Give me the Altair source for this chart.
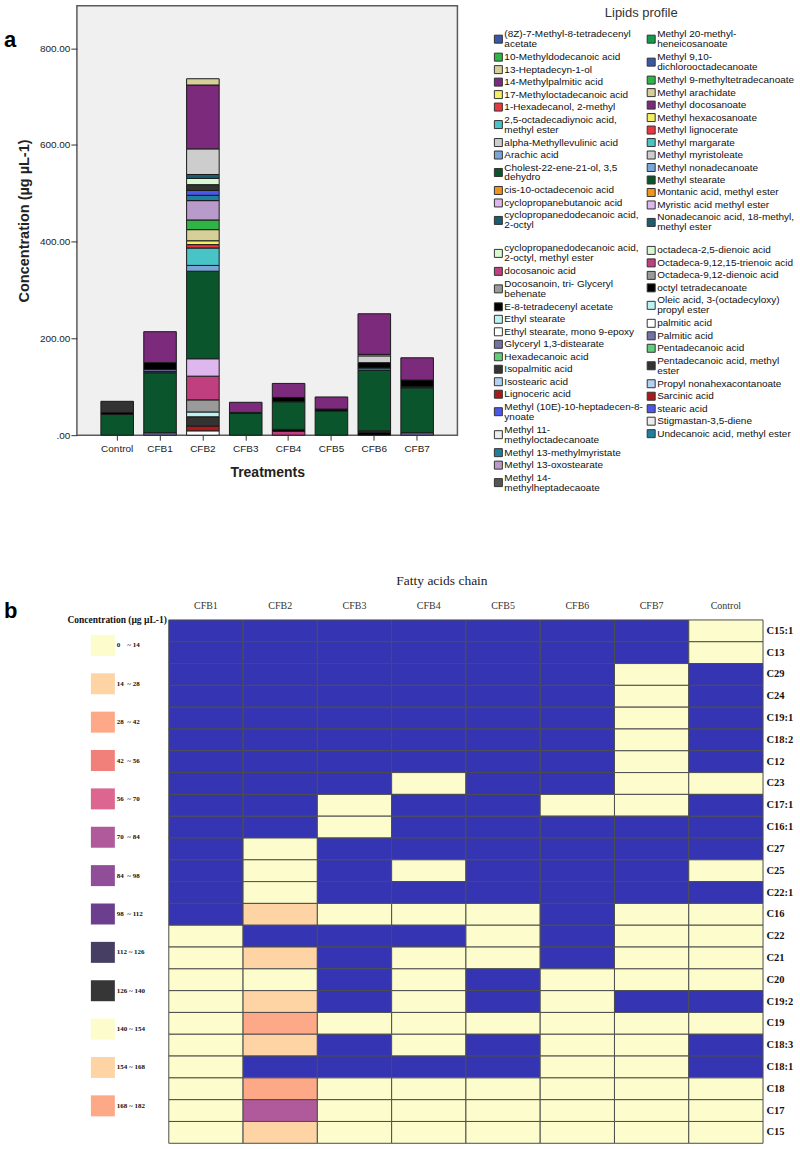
import altair as alt
import pandas as pd

SANS = "Liberation Sans"
SERIF = "Liberation Serif"

# ---------------------------------------------------------------- panel a
TREATMENTS = ["Control", "CFB1", "CFB2", "CFB3", "CFB4", "CFB5", "CFB6", "CFB7"]

# legend entries, column by column ("\n" marks where a label wraps)
LIPIDS_LEFT = [
    "(8Z)-7-Methyl-8-tetradecenyl\nacetate",
    "10-Methyldodecanoic acid",
    "13-Heptadecyn-1-ol",
    "14-Methylpalmitic acid",
    "17-Methyloctadecanoic acid",
    "1-Hexadecanol, 2-methyl",
    "2,5-octadecadiynoic acid,\nmethyl ester",
    "alpha-Methyllevulinic acid",
    "Arachic acid",
    "Cholest-22-ene-21-ol, 3,5\ndehydro",
    "cis-10-octadecenoic acid",
    "cyclopropanebutanoic acid",
    "cyclopropanedodecanoic acid,\n2-octyl",
    "cyclopropanedodecanoic acid,\n2-octyl, methyl ester",
    "docosanoic acid",
    "Docosanoin, tri- Glyceryl\nbehenate",
    "E-8-tetradecenyl acetate",
    "Ethyl stearate",
    "Ethyl stearate, mono 9-epoxy",
    "Glyceryl 1,3-distearate",
    "Hexadecanoic acid",
    "Isopalmitic acid",
    "Isostearic acid",
    "Lignoceric acid",
    "Methyl (10E)-10-heptadecen-8-\nynoate",
    "Methyl 11-\nmethyloctadecanoate",
    "Methyl 13-methylmyristate",
    "Methyl 13-oxostearate",
    "Methyl 14-\nmethylheptadecaoate",
]
COLORS_LEFT = [
    "#3a56a8", "#2fb545", "#d6cf98", "#7b2a7c", "#f4ee62", "#e8383e",
    "#48c3c6", "#cdcdcd", "#78a6d6", "#0b552c", "#f0941e", "#dfb7ef",
    "#1b5c73", "#d9f9d3", "#c03f7f", "#9a9a9a", "#000000", "#bdf2f2",
    "#ffffff", "#7272a6", "#5fcf7c", "#333333", "#b2d2f2", "#a91b1b",
    "#4b57ea", "#ececec", "#1f7f9e", "#b99bcb", "#555555",
]
LIPIDS_RIGHT = [
    "Methyl 20-methyl-\nheneicosanoate",
    "Methyl 9,10-\ndichlorooctadecanoate",
    "Methyl 9-methyltetradecanoate",
    "Methyl arachidate",
    "Methyl docosanoate",
    "Methyl hexacosanoate",
    "Methyl lignocerate",
    "Methyl margarate",
    "Methyl myristoleate",
    "Methyl nonadecanoate",
    "Methyl stearate",
    "Montanic acid, methyl ester",
    "Myristic acid methyl ester",
    "Nonadecanoic acid, 18-methyl,\nmethyl ester",
    "octadeca-2,5-dienoic acid",
    "Octadeca-9,12,15-trienoic acid",
    "Octadeca-9,12-dienoic acid",
    "octyl tetradecanoate",
    "Oleic acid, 3-(octadecyloxy)\npropyl ester",
    "palmitic acid",
    "Palmitic acid",
    "Pentadecanoic acid",
    "Pentadecanoic acid, methyl\nester",
    "Propyl nonahexacontanoate",
    "Sarcinic acid",
    "stearic acid",
    "Stigmastan-3,5-diene",
    "Undecanoic acid, methyl ester",
]
COLORS_RIGHT = [
    "#139a4a", "#3a56a8", "#2fb545", "#d6cf98", "#7b2a7c", "#f4ee62",
    "#e8383e", "#48c3c6", "#cdcdcd", "#78a6d6", "#0b552c", "#f0941e",
    "#dfb7ef", "#1b5c73", "#d9f9d3", "#c03f7f", "#9a9a9a", "#000000",
    "#bdf2f2", "#ffffff", "#7272a6", "#5fcf7c", "#333333", "#b2d2f2",
    "#a91b1b", "#4b57ea", "#ececec", "#1f7f9e",
]
# number of entries above the blank row that splits each legend column
BREAK_AFTER = [13, 14]

# stacked segments of each treatment, bottom to top (µg µL-1)
CONTROL_LIPIDS = ["Methyl stearate", "octyl tetradecanoate", "Pentadecanoic acid, methyl ester"]
CONTROL_VALUES = [43, 4, 23]

CFB1_LIPIDS = ["Palmitic acid", "Methyl stearate", "Nonadecanoic acid, 18-methyl, methyl ester",
               "Glyceryl 1,3-distearate", "E-8-tetradecenyl acetate", "Methyl docosanoate"]
CFB1_VALUES = [5, 124, 3, 4, 14, 64]

CFB2_LIPIDS = ["palmitic acid", "Lignoceric acid", "Isopalmitic acid", "Ethyl stearate",
               "Octadeca-9,12-dienoic acid", "Octadeca-9,12,15-trienoic acid",
               "Myristic acid methyl ester", "Methyl stearate", "Methyl nonadecanoate",
               "Methyl margarate", "Methyl lignocerate", "Methyl hexacosanoate",
               "Methyl arachidate", "Methyl 9-methyltetradecanoate", "Methyl 13-oxostearate",
               "Methyl 13-methylmyristate", "stearic acid", "Pentadecanoic acid, methyl ester",
               "octadeca-2,5-dienoic acid", "Nonadecanoic acid, 18-methyl, methyl ester",
               "Methyl myristoleate", "Methyl docosanoate", "13-Heptadecyn-1-ol"]
CFB2_VALUES = [9, 10, 19, 10, 25, 49, 36, 181, 12, 36, 7, 8, 23, 20, 40, 11, 10, 12, 13, 8, 53, 132, 13]

CFB3_LIPIDS = ["Methyl stearate", "octyl tetradecanoate", "Methyl docosanoate"]
CFB3_VALUES = [45, 2, 21]

CFB4_LIPIDS = ["Octadeca-9,12,15-trienoic acid", "octyl tetradecanoate", "Methyl stearate",
               "E-8-tetradecenyl acetate", "Methyl docosanoate"]
CFB4_VALUES = [8, 4, 57, 9, 29]

CFB5_LIPIDS = ["Methyl stearate", "octyl tetradecanoate", "Methyl docosanoate"]
CFB5_VALUES = [50, 4, 25]

CFB6_LIPIDS = ["E-8-tetradecenyl acetate", "Isopalmitic acid", "Methyl stearate",
               "Methyl 13-methylmyristate", "octyl tetradecanoate", "Methyl myristoleate",
               "Ethyl stearate, mono 9-epoxy", "Methyl docosanoate"]
CFB6_VALUES = [6, 3, 125, 5, 11, 14, 3, 84]

CFB7_LIPIDS = ["Palmitic acid", "Methyl stearate", "Pentadecanoic acid, methyl ester",
               "octyl tetradecanoate", "Methyl docosanoate"]
CFB7_VALUES = [5, 93, 2, 14, 46]

Y_TICKS = [0, 200, 400, 600, 800]

# ---------------------------------------------------------------- panel b
FATTY_ACIDS = ["C15:1", "C13", "C29", "C24", "C19:1", "C18:2", "C12", "C23", "C17:1",
               "C16:1", "C27", "C25", "C22:1", "C16", "C22", "C21", "C20", "C19:2",
               "C19", "C18:3", "C18:1", "C18", "C17", "C15"]
HEAT_TREATMENTS = ["CFB1", "CFB2", "CFB3", "CFB4", "CFB5", "CFB6", "CFB7", "Control"]

NBSP = "\u00a0"
CONC_BINS = [
    f"0{NBSP * 4}~ 14", f"14{NBSP * 2}~ 28", f"28{NBSP * 2}~ 42", f"42{NBSP * 2}~ 56",
    f"56{NBSP * 2}~ 70", f"70{NBSP * 2}~ 84", f"84{NBSP * 2}~ 98", f"98{NBSP * 2}~ 112",
    "112 ~ 126", "126 ~ 140", "140 ~ 154", "154 ~ 168", "168 ~ 182",
]
CONC_COLORS = ["#fcfccc", "#fed4a4", "#fda886", "#f2807a", "#dc6690", "#b05a9b", "#904d98",
               "#6b3f8d", "#473f63", "#363637", "#fcfccc", "#fed4a4", "#fda886"]
NOT_DETECTED = "not detected"
NOT_DETECTED_COLOR = "#3535b3"

# one letter per fatty acid (top to bottom): n = not detected,
# a = 0~14, b = 14~28, c = 28~42, f = 70~84
LEVEL_CODES = {"n": NOT_DETECTED, "a": CONC_BINS[0], "b": CONC_BINS[1],
               "c": CONC_BINS[2], "f": CONC_BINS[5]}
CFB1_LEVELS = "nnnnnnnnnnnnnnaaaaaaaaaa"
CFB2_LEVELS = "nnnnnnnnnnaaabnbabcbncfb"
CFB3_LEVELS = "nnnnnnnnaannnannnnannaaa"
CFB4_LEVELS = "nnnnnnnannnananaaaaanaaa"
CFB5_LEVELS = "nnnnnnnnnnnnnaaannannaaa"
CFB6_LEVELS = "nnnnnnnnannnnnnnaaaaaaaa"
CFB7_LEVELS = "nnaaaaaaannnnaaaanaaaaaa"
CONTROL_LEVELS = "aannnnnannnanaaaanannaaa"

# ---------------------------------------------------------------- tables
def full_name(label):
    parts = label.split("\n")
    name = parts[0]
    for p in parts[1:]:
        name = name + p if name.endswith("-") else name + " " + p
    return name


ALL_NAMES = [full_name(s) for s in LIPIDS_LEFT + LIPIDS_RIGHT]
ALL_COLORS = COLORS_LEFT + COLORS_RIGHT

stacks = [
    ("Control", CONTROL_LIPIDS, CONTROL_VALUES), ("CFB1", CFB1_LIPIDS, CFB1_VALUES),
    ("CFB2", CFB2_LIPIDS, CFB2_VALUES), ("CFB3", CFB3_LIPIDS, CFB3_VALUES),
    ("CFB4", CFB4_LIPIDS, CFB4_VALUES), ("CFB5", CFB5_LIPIDS, CFB5_VALUES),
    ("CFB6", CFB6_LIPIDS, CFB6_VALUES), ("CFB7", CFB7_LIPIDS, CFB7_VALUES),
]
bar_rows = []
for treatment, names, values in stacks:
    for k, (n, v) in enumerate(zip(names, values)):
        bar_rows.append({"treatment": treatment, "lipid": n, "value": v, "layer": k})
bar_df = pd.DataFrame(bar_rows)

# legend layout: first-line centre, spacing between entries and wrapped lines
LEGEND_TOP = 28.5
ENTRY_STEP = 12.5
WRAP_EXTRA = 10.5
LINE_GAP = 10.0
BREAK_GAP = 10.0
LEGEND_H = 500

swatch_rows, text_rows = [], []
for col, labels in enumerate([LIPIDS_LEFT, LIPIDS_RIGHT]):
    y = LEGEND_TOP
    for k, label in enumerate(labels):
        if k == BREAK_AFTER[col]:
            y += BREAK_GAP
        lines = label.split("\n")
        for j, line in enumerate(lines):
            text_rows.append({"col": col, "y": y + j * LINE_GAP, "text": line})
        swatch_rows.append({"col": col, "y": y + (len(lines) - 1) * LINE_GAP / 2,
                            "lipid": full_name(label)})
        y += ENTRY_STEP + WRAP_EXTRA * (len(lines) - 1)
swatch_df = pd.DataFrame(swatch_rows)
text_df = pd.DataFrame(text_rows)

heat_rows = []
for treatment, codes in zip(HEAT_TREATMENTS, [CFB1_LEVELS, CFB2_LEVELS, CFB3_LEVELS, CFB4_LEVELS,
                                               CFB5_LEVELS, CFB6_LEVELS, CFB7_LEVELS, CONTROL_LEVELS]):
    for acid, code in zip(FATTY_ACIDS, codes):
        heat_rows.append({"treatment": treatment, "acid": acid, "level": LEVEL_CODES[code]})
heat_df = pd.DataFrame(heat_rows)

bins_df = pd.DataFrame({"bin": CONC_BINS, "color": CONC_COLORS})

# ---------------------------------------------------------------- panel a charts
lipid_color = alt.Color("lipid:N", scale=alt.Scale(domain=ALL_NAMES, range=ALL_COLORS), legend=None)

bars = alt.Chart(bar_df).mark_bar(stroke="#1a1a1a", strokeWidth=1).encode(
    x=alt.X("treatment:N", sort=TREATMENTS,
            scale=alt.Scale(domain=TREATMENTS, paddingInner=0.24, paddingOuter=0.56),
            axis=alt.Axis(title="Treatments", labelAngle=0, labelFont=SANS, labelFontSize=10,
                          labelColor="#222", tickSize=5, tickColor="#333", domain=False,
                          labelPadding=3, titleFont=SANS, titleFontSize=14,
                          titleFontWeight="bold", titleColor="#222", titlePadding=12)),
    y=alt.Y("value:Q", stack="zero", scale=alt.Scale(domain=[0, 888], nice=False),
            axis=alt.Axis(values=Y_TICKS, grid=False, domain=False, tickSize=6, tickColor="#333",
                          labelExpr="datum.value == 0 ? '.00' : format(datum.value, '.2f')",
                          labelFont=SANS, labelFontSize=10, labelColor="#222", labelPadding=1,
                          title="Concentration (µg µL-1)", titleFont=SANS, titleFontSize=14.5,
                          titleFontWeight="bold", titleColor="#222", titlePadding=8)),
    color=lipid_color,
    order=alt.Order("layer:Q", sort="ascending"),
)
tag_a = alt.Chart(pd.DataFrame({"panel": ["a"]})).mark_text(
    font=SANS, fontSize=22, fontWeight="bold", align="left", baseline="alphabetic", color="#000"
).encode(text="panel:N", x=alt.value(-73), y=alt.value(41))

bar_chart = alt.layer(bars, tag_a).properties(
    width=381, height=430,
    view=alt.ViewBackground(fill="#f0f0f0", stroke="#5a5a5a", strokeWidth=1.5),
)

leg_x = alt.X("col:Q", scale=alt.Scale(domain=[0, 1], range=[17, 170]), axis=None)
leg_y = alt.Y("y:Q", scale=alt.Scale(domain=[LEGEND_H, 0], nice=False, zero=False), axis=None)
swatches = alt.Chart(swatch_df).mark_square(size=64, stroke="#333", strokeWidth=1, opacity=1).encode(
    x=leg_x, y=leg_y, color=lipid_color)
labels = alt.Chart(text_df).mark_text(
    font=SANS, fontSize=10, align="left", baseline="middle", dx=6, color="#111"
).encode(x=leg_x, y=leg_y, text="text:N")
legend_title = alt.Chart(pd.DataFrame({"t": ["Lipids profile"]})).mark_text(
    font=SANS, fontSize=13, align="center", baseline="middle", color="#333"
).encode(text="t:N", x=alt.value(160), y=alt.value(7.5))
legend_chart = alt.layer(swatches, labels, legend_title).properties(width=319, height=LEGEND_H)

# ---------------------------------------------------------------- panel b charts
bin_y = alt.Y("bin:N", scale=alt.Scale(domain=CONC_BINS, paddingInner=0.453, paddingOuter=0.39),
              axis=None)
bin_boxes = alt.Chart(bins_df).mark_rect().encode(
    x=alt.value(14), x2=alt.value(38), y=bin_y, color=alt.Color("color:N", scale=None))
bin_labels = alt.Chart(bins_df).mark_text(
    font=SERIF, fontSize=7, fontWeight="bold", align="left", baseline="middle", color="#111"
).encode(x=alt.value(40), y=bin_y, text="bin:N")
bin_title = alt.Chart(pd.DataFrame({"t": ["Concentration (µg µL-1)"]})).mark_text(
    font=SERIF, fontSize=9.5, fontWeight="bold", align="right", baseline="middle", color="#111"
).encode(text="t:N", x=alt.value(90), y=alt.value(0))
tag_b = alt.Chart(pd.DataFrame({"panel": ["b"]})).mark_text(
    font=SANS, fontSize=22, fontWeight="bold", align="left", baseline="alphabetic", color="#000"
).encode(text="panel:N", x=alt.value(-73), y=alt.value(-2))
bin_legend = alt.layer(bin_boxes, bin_labels, bin_title, tag_b).properties(width=91, height=512)

heatmap = alt.Chart(heat_df).mark_rect(stroke="#4d4d4d", strokeWidth=1).encode(
    x=alt.X("treatment:N", scale=alt.Scale(domain=HEAT_TREATMENTS, paddingInner=0, paddingOuter=0),
            axis=alt.Axis(orient="top", title=None, labelAngle=0, ticks=False, tickSize=0,
                          domain=False, labelPadding=9, labelFont=SERIF, labelFontSize=10,
                          labelColor="#333")),
    y=alt.Y("acid:N", scale=alt.Scale(domain=FATTY_ACIDS, paddingInner=0, paddingOuter=0),
            axis=alt.Axis(orient="right", title=None, ticks=False, tickSize=0, domain=False,
                          labelFont=SERIF, labelFontSize=10.5, labelFontWeight="bold",
                          labelColor="#111", labelPadding=3)),
    color=alt.Color("level:N", scale=alt.Scale(domain=[NOT_DETECTED] + CONC_BINS,
                                               range=[NOT_DETECTED_COLOR] + CONC_COLORS),
                    legend=None),
).properties(
    width=595, height=524,
    title=alt.TitleParams("Fatty acids chain", font=SERIF, fontSize=13.5, fontWeight="normal",
                          color="#222", anchor="middle", dx=-24, offset=13),
)

top = alt.hconcat(bar_chart, legend_chart, spacing=23).resolve_scale(color="independent")
bottom = alt.hconcat(bin_legend, heatmap, spacing=0).resolve_scale(color="independent")
chart = alt.vconcat(top, bottom, spacing=69).resolve_scale(color="independent").properties(
    padding={"left": 3, "top": 4, "right": 0, "bottom": 0},
    background="white",
).configure_view(stroke=None)

chart.save("out.html", embed_options={"renderer": "svg", "actions": False})
